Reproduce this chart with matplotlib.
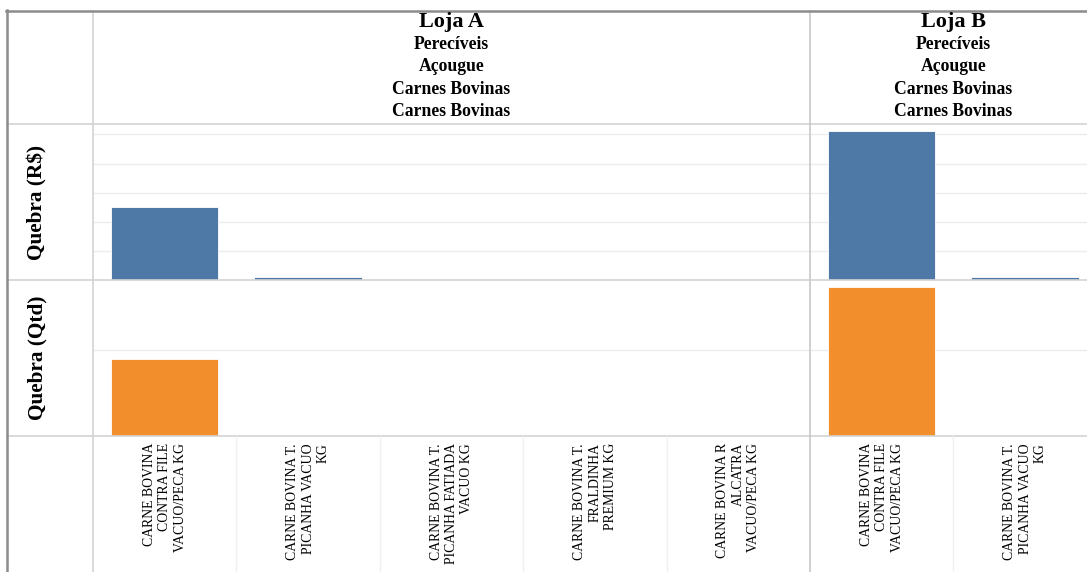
import matplotlib
matplotlib.use("Agg")
import matplotlib.pyplot as plt
from matplotlib.lines import Line2D

# ---- data ----
stores = ["Loja A", "Loja B"]
header_lines = ["Perecíveis", "Açougue", "Carnes Bovinas", "Carnes Bovinas"]
products_a = [
    "CARNE BOVINA\nCONTRA FILE\nVACUO/PECA KG",
    "CARNE BOVINA T.\nPICANHA VACUO\nKG",
    "CARNE BOVINA T.\nPICANHA FATIADA\nVACUO KG",
    "CARNE BOVINA T.\nFRALDINHA\nPREMIUM KG",
    "CARNE BOVINA R\nALCATRA\nVACUO/PECA KG",
]
products_b = [
    "CARNE BOVINA\nCONTRA FILE\nVACUO/PECA KG",
    "CARNE BOVINA T.\nPICANHA VACUO\nKG",
]
quebra_rs_a = [252, 9, 0, 0, 0]
quebra_rs_b = [511, 9]
quebra_qtd_a = [8.9, 0.15, 0, 0, 0]
quebra_qtd_b = [17.3, 0.15]
row_labels = ["Quebra (R$)", "Quebra (Qtd)"]

BLUE = "#4e79a7"
ORANGE = "#f28e2b"
GRID = "#ececec"
SEP = "#d3d3d3"
SERIF = ["Liberation Serif", "DejaVu Serif"]

W, H = 1087, 572
fig = plt.figure(figsize=(W / 100, H / 100), dpi=100)


def fx(px):
    return px / W


def fy(py):
    return 1 - py / H


# layout in pixels
left_col = 93
cat_w = 143.4
a_x0 = left_col
a_x1 = a_x0 + cat_w * len(products_a)
b_x0 = a_x1
b_x1 = b_x0 + cat_w * len(products_b)
header_bot = 124
row1_bot = 280
row2_bot = 436

rows = [
    (header_bot, row1_bot, (quebra_rs_a, quebra_rs_b), BLUE, 536, [100, 200, 300, 400, 500]),
    (row1_bot, row2_bot, (quebra_qtd_a, quebra_qtd_b), ORANGE, 18.1, [10]),
]

panels = [(a_x0, a_x1, products_a), (b_x0, b_x1, products_b)]

for (y0, y1, series, color, ymax, ticks) in rows:
    for pi, (x0, x1, prods) in enumerate(panels):
        ax = fig.add_axes([fx(x0), fy(y1), fx(x1 - x0), (y1 - y0) / H])
        vals = series[pi]
        xs = list(range(len(prods)))
        ax.bar(xs, vals, width=0.75, color=color, edgecolor="#ffffff", linewidth=0.6,
               zorder=3)
        ax.set_xlim(-0.5, len(prods) - 0.5)
        ax.set_ylim(0, ymax)
        for t in ticks:
            ax.axhline(t, color=GRID, linewidth=1.0, zorder=1)
        ax.set_xticks([])
        ax.set_yticks([])
        for s in ax.spines.values():
            s.set_visible(False)
        ax.patch.set_alpha(0)


# separators
def hline(py, px0, px1, color=SEP, lw=1.2):
    fig.add_artist(Line2D([fx(px0), fx(px1)], [fy(py), fy(py)], color=color, lw=lw))


def vline(px, py0, py1, color=SEP, lw=1.2):
    fig.add_artist(Line2D([fx(px), fx(px)], [fy(py0), fy(py1)], color=color, lw=lw))


hline(header_bot, 7, W + 20)
hline(row1_bot, 7, W + 20)
hline(row2_bot, 7, W + 20)
vline(left_col, 11, H + 5)
vline(b_x0, 11, H + 5, color="#c8c8c8")

# faint category dividers in the label band
for x0, x1, prods in panels:
    for k in range(1, len(prods)):
        vline(x0 + k * cat_w, row2_bot, H + 5, color="#f0f0f0", lw=1.0)

# outer frame (top and left)
hline(11, 6, W + 20, color="#8c8c8c", lw=1.8)
vline(7, 10, H + 5, color="#8c8c8c", lw=1.8)

# column headers
for name, (x0, x1, _) in zip(stores, panels):
    cx = fx((x0 + x1) / 2)
    fig.text(cx, fy(22), name, ha="center", va="center", family=SERIF,
             fontweight="bold", fontsize=16)
    for i, line in enumerate(header_lines):
        fig.text(cx, fy(44.5 + 22.5 * i), line, ha="center", va="center", family=SERIF,
                 fontweight="bold", fontsize=12.7)

# row headers
for label, (y0, y1) in zip(row_labels, [(header_bot, row1_bot), (row1_bot, row2_bot)]):
    fig.text(fx(37), fy((y0 + y1) / 2), label, rotation=90, ha="center", va="center",
             family=SERIF, fontweight="bold", fontsize=15.3)

# product labels
for x0, x1, prods in panels:
    for k, p in enumerate(prods):
        cx = x0 + (k + 0.5) * cat_w
        fig.text(fx(cx), fy(443), p, rotation=90, rotation_mode="anchor",
                 ha="right", va="center", multialignment="right",
                 family=SERIF, fontsize=9.9, linespacing=1.25)

fig.savefig("out.png", dpi=100, facecolor="white")
